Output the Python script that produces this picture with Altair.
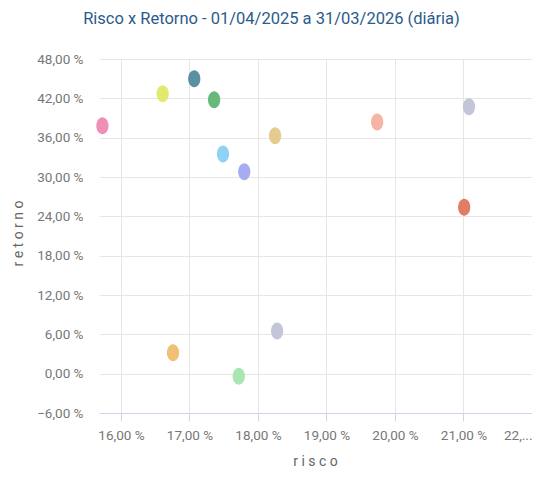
import altair as alt
import pandas as pd

ativos = ["Ativo A", "Ativo B", "Ativo C", "Ativo D", "Ativo E", "Ativo F", "Ativo G",
          "Ativo H", "Ativo I", "Ativo J", "Ativo K", "Ativo L", "Ativo M"]
risco = [15.73, 16.61, 17.07, 17.36, 17.49, 17.80, 18.25, 19.74, 21.08, 21.01, 18.28, 16.76, 17.72]
retorno = [37.8, 42.7, 45.0, 41.8, 33.5, 30.8, 36.3, 38.4, 40.7, 25.4, 6.5, 3.2, -0.4]
cores = ["#ef8fb8", "#e2ea6e", "#5b8fa3", "#68b87c", "#90d2f6", "#a9abf2", "#e6cb90",
         "#f7b3a3", "#c3c6d9", "#e27c64", "#c3c6d9", "#efc075", "#a9e6b2"]
x_ticks = [16, 17, 18, 19, 20, 21, 22]
y_ticks = [-6, 0, 6, 12, 18, 24, 30, 36, 42, 48]

df = pd.DataFrame({"ativo": ativos, "risco": risco, "retorno": retorno})

ellipse = "M0.72,0A0.72,1,0,1,1,-0.72,0A0.72,1,0,1,1,0.72,0Z"

chart = alt.Chart(df).mark_point(
    shape=ellipse, filled=True, opacity=1, size=289, strokeWidth=0
).encode(
    x=alt.X("risco:Q",
            scale=alt.Scale(domain=[15.68, 22.0], nice=False, zero=False),
            axis=alt.Axis(
                values=x_ticks,
                title="r i s c o",
                titleX=216, titleY=48, titleBaseline="middle",
                titleFont="Roboto", titleFontSize=14, titleFontWeight="normal",
                titleColor="#666666",
                labelExpr="datum.value == 22 ? '22,...' : replace(format(datum.value, '.2f'), '.', ',') + ' %'",
                labelAlign={"expr": "datum.value == 22 ? 'right' : 'center'"},
                labelFont="Roboto", labelFontSize=13.5, labelColor="#777777",
                labelPadding=7, labelFlush=False,
                tickSize=8, tickColor="#ccd6eb", domainColor="#ccd6eb",
                gridColor="#e6e6e6", grid=True,
            )),
    y=alt.Y("retorno:Q",
            scale=alt.Scale(domain=[-6, 48], nice=False, zero=False),
            axis=alt.Axis(
                values=y_ticks,
                title="r e t o r n o",
                titleX=-81, titleY=174, titleBaseline="middle", titleAngle=-90,
                titleFont="Roboto", titleFontSize=14, titleFontWeight="normal",
                titleColor="#666666",
                labelExpr="replace(format(datum.value, '.2f'), '.', ',') + ' %'",
                labelFont="Roboto", labelFontSize=13.5, labelColor="#777777",
                labelPadding=16, ticks=False, domain=False,
                gridColor="#e6e6e6", grid=True,
            )),
    color=alt.Color("ativo:N", scale=alt.Scale(domain=ativos, range=cores), legend=None),
).properties(
    width=433, height=354,
    padding={"left": 91, "top": 51, "right": 0, "bottom": 56},
    autosize=alt.AutoSizeParams(type="none"),
    title=alt.TitleParams(
        "Risco x Retorno - 01/04/2025 a 31/03/2026 (diária)",
        font="Roboto", fontSize=16.5, fontWeight="normal", color="#2b5b8c",
        anchor="middle", offset=25, dx=-44,
    ),
).configure_view(stroke=None)

chart.save("out.html", embed_options={"renderer": "svg", "actions": False})
